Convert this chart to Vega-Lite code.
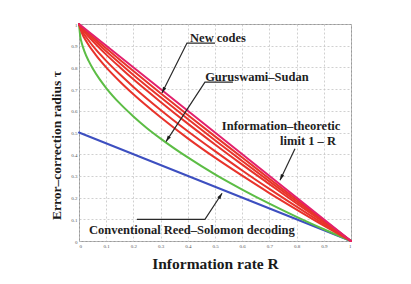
{
  "$schema": "https://vega.github.io/schema/vega-lite/v6.json",
  "autosize": {"type": "none"},
  "padding": {"left": 79, "top": 24, "right": 60, "bottom": 43},
  "width": 272,
  "height": 217,
  "background": "#ffffff",
  "config": {
    "view": {"stroke": "#9a9a9a", "strokeWidth": 1},
    "axis": {
      "grid": true,
      "gridColor": "#c4c4c4",
      "gridDash": [2, 2],
      "gridWidth": 0.8,
      "domain": false,
      "ticks": false,
      "labelFont": "Liberation Serif",
      "labelFontSize": 5,
      "labelColor": "#555555",
      "labelPadding": 2,
      "titleFont": "Liberation Serif",
      "titleFontWeight": "bold",
      "titleColor": "#1a1a1a"
    }
  },
  "datasets": {
    "curves": [
      {"s": "rs", "R": 0, "tau": 0.5}, {"s": "rs", "R": 1, "tau": 0},
      {"s": "gs", "R": 0, "tau": 1}, {"s": "gs", "R": 0.005, "tau": 0.94}, {"s": "gs", "R": 0.01, "tau": 0.913},
      {"s": "gs", "R": 0.02, "tau": 0.874}, {"s": "gs", "R": 0.035, "tau": 0.831}, {"s": "gs", "R": 0.05, "tau": 0.796},
      {"s": "gs", "R": 0.075, "tau": 0.747}, {"s": "gs", "R": 0.1, "tau": 0.705}, {"s": "gs", "R": 0.15, "tau": 0.634},
      {"s": "gs", "R": 0.2, "tau": 0.574}, {"s": "gs", "R": 0.25, "tau": 0.52}, {"s": "gs", "R": 0.3, "tau": 0.472},
      {"s": "gs", "R": 0.4, "tau": 0.385}, {"s": "gs", "R": 0.5, "tau": 0.307}, {"s": "gs", "R": 0.6, "tau": 0.237},
      {"s": "gs", "R": 0.7, "tau": 0.172}, {"s": "gs", "R": 0.8, "tau": 0.111}, {"s": "gs", "R": 0.9, "tau": 0.054},
      {"s": "gs", "R": 1, "tau": 0},
      {"s": "r1", "R": 0, "tau": 1}, {"s": "r1", "R": 0.01, "tau": 0.96}, {"s": "r1", "R": 0.03, "tau": 0.914},
      {"s": "r1", "R": 0.06, "tau": 0.86}, {"s": "r1", "R": 0.1, "tau": 0.8}, {"s": "r1", "R": 0.15, "tau": 0.735},
      {"s": "r1", "R": 0.2, "tau": 0.676}, {"s": "r1", "R": 0.3, "tau": 0.57}, {"s": "r1", "R": 0.4, "tau": 0.473},
      {"s": "r1", "R": 0.5, "tau": 0.384}, {"s": "r1", "R": 0.6, "tau": 0.301}, {"s": "r1", "R": 0.7, "tau": 0.221},
      {"s": "r1", "R": 0.8, "tau": 0.145}, {"s": "r1", "R": 0.9, "tau": 0.071}, {"s": "r1", "R": 1, "tau": 0},
      {"s": "r2", "R": 0, "tau": 1}, {"s": "r2", "R": 0.01, "tau": 0.971}, {"s": "r2", "R": 0.03, "tau": 0.933},
      {"s": "r2", "R": 0.06, "tau": 0.885}, {"s": "r2", "R": 0.1, "tau": 0.83}, {"s": "r2", "R": 0.15, "tau": 0.768},
      {"s": "r2", "R": 0.2, "tau": 0.71}, {"s": "r2", "R": 0.3, "tau": 0.604}, {"s": "r2", "R": 0.4, "tau": 0.506},
      {"s": "r2", "R": 0.5, "tau": 0.414}, {"s": "r2", "R": 0.6, "tau": 0.325}, {"s": "r2", "R": 0.7, "tau": 0.24},
      {"s": "r2", "R": 0.8, "tau": 0.158}, {"s": "r2", "R": 0.9, "tau": 0.078}, {"s": "r2", "R": 1, "tau": 0},
      {"s": "r3", "R": 0, "tau": 1}, {"s": "r3", "R": 0.01, "tau": 0.98}, {"s": "r3", "R": 0.03, "tau": 0.949},
      {"s": "r3", "R": 0.06, "tau": 0.909}, {"s": "r3", "R": 0.1, "tau": 0.859}, {"s": "r3", "R": 0.15, "tau": 0.801},
      {"s": "r3", "R": 0.2, "tau": 0.745}, {"s": "r3", "R": 0.3, "tau": 0.641}, {"s": "r3", "R": 0.4, "tau": 0.541},
      {"s": "r3", "R": 0.5, "tau": 0.445}, {"s": "r3", "R": 0.6, "tau": 0.352}, {"s": "r3", "R": 0.7, "tau": 0.262},
      {"s": "r3", "R": 0.8, "tau": 0.173}, {"s": "r3", "R": 0.9, "tau": 0.086}, {"s": "r3", "R": 1, "tau": 0},
      {"s": "r4", "R": 0, "tau": 1}, {"s": "r4", "R": 0.01, "tau": 0.984}, {"s": "r4", "R": 0.03, "tau": 0.957},
      {"s": "r4", "R": 0.06, "tau": 0.921}, {"s": "r4", "R": 0.1, "tau": 0.874}, {"s": "r4", "R": 0.15, "tau": 0.819},
      {"s": "r4", "R": 0.2, "tau": 0.765}, {"s": "r4", "R": 0.3, "tau": 0.662}, {"s": "r4", "R": 0.4, "tau": 0.562},
      {"s": "r4", "R": 0.5, "tau": 0.464}, {"s": "r4", "R": 0.6, "tau": 0.369}, {"s": "r4", "R": 0.7, "tau": 0.275},
      {"s": "r4", "R": 0.8, "tau": 0.182}, {"s": "r4", "R": 0.9, "tau": 0.091}, {"s": "r4", "R": 1, "tau": 0},
      {"s": "r5", "R": 0, "tau": 1}, {"s": "r5", "R": 0.01, "tau": 0.987}, {"s": "r5", "R": 0.03, "tau": 0.964},
      {"s": "r5", "R": 0.06, "tau": 0.931}, {"s": "r5", "R": 0.1, "tau": 0.888}, {"s": "r5", "R": 0.15, "tau": 0.835},
      {"s": "r5", "R": 0.2, "tau": 0.783}, {"s": "r5", "R": 0.3, "tau": 0.681}, {"s": "r5", "R": 0.4, "tau": 0.581},
      {"s": "r5", "R": 0.5, "tau": 0.482}, {"s": "r5", "R": 0.6, "tau": 0.385}, {"s": "r5", "R": 0.7, "tau": 0.287},
      {"s": "r5", "R": 0.8, "tau": 0.191}, {"s": "r5", "R": 0.9, "tau": 0.095}, {"s": "r5", "R": 1, "tau": 0},
      {"s": "lim", "R": 0, "tau": 1}, {"s": "lim", "R": 1, "tau": 0}
    ],
    "notes": [
      {"t": "New codes", "R": 0.511, "tau": 0.935},
      {"t": "Guruswami–Sudan", "R": 0.654, "tau": 0.755},
      {"t": "Information–theoretic", "R": 0.743, "tau": 0.532},
      {"t": "limit 1 – R", "R": 0.842, "tau": 0.46},
      {"t": "Conventional Reed–Solomon decoding", "R": 0.415, "tau": 0.049}
    ],
    "arrows": [
      {"a": 1, "o": 1, "R": 0.5, "tau": 0.912}, {"a": 1, "o": 2, "R": 0.397, "tau": 0.912}, {"a": 1, "o": 3, "R": 0.305, "tau": 0.682},
      {"a": 2, "o": 1, "R": 0.566, "tau": 0.732}, {"a": 2, "o": 2, "R": 0.463, "tau": 0.732}, {"a": 2, "o": 3, "R": 0.32, "tau": 0.458},
      {"a": 3, "o": 1, "R": 0.794, "tau": 0.425}, {"a": 3, "o": 2, "R": 0.739, "tau": 0.28},
      {"a": 4, "o": 1, "R": 0.213, "tau": 0.1}, {"a": 4, "o": 2, "R": 0.463, "tau": 0.1}, {"a": 4, "o": 3, "R": 0.526, "tau": 0.22}
    ],
    "heads": [
      {"a": 1, "R": 0.305, "tau": 0.682},
      {"a": 2, "R": 0.32, "tau": 0.458},
      {"a": 3, "R": 0.739, "tau": 0.28},
      {"a": 4, "R": 0.526, "tau": 0.22}
    ]
  },
  "encoding": {
    "x": {
      "field": "R", "type": "quantitative",
      "scale": {"domain": [0, 1], "nice": false},
      "axis": {"values": [0, 0.1, 0.2, 0.3, 0.4, 0.5, 0.6, 0.7, 0.8, 0.9, 1], "format": "~g", "title": "Information rate R", "titleFontSize": 15.5, "titleY": 15, "titleBaseline": "top"}
    },
    "y": {
      "field": "tau", "type": "quantitative",
      "scale": {"domain": [0, 1], "nice": false},
      "axis": {"values": [0, 0.1, 0.2, 0.3, 0.4, 0.5, 0.6, 0.7, 0.8, 0.9, 1], "format": "~g", "title": "Error–correction radius τ", "titleFontSize": 13.5, "titleX": -19, "titleY": 121, "titleBaseline": "alphabetic"}
    }
  },
  "layer": [
    {
      "data": {"name": "curves"},
      "mark": {"type": "line", "interpolate": "monotone", "strokeWidth": 2, "strokeCap": "round"},
      "encoding": {
        "color": {
          "field": "s", "type": "nominal", "legend": null,
          "scale": {
            "domain": ["rs", "gs", "r1", "r2", "r3", "r4", "r5", "lim"],
            "range": ["#3d4fc0", "#5cbd45", "#e8332b", "#e8332b", "#e8332b", "#e8332b", "#e8332b", "#e3206c"]
          }
        }
      }
    },
    {
      "data": {"name": "arrows"},
      "mark": {"type": "line", "color": "#2a2a2a", "strokeWidth": 1.2},
      "encoding": {"detail": {"field": "a"}, "order": {"field": "o", "type": "quantitative"}}
    },
    {
      "data": {"name": "heads"},
      "transform": [{"filter": "datum.a == 1"}],
      "mark": {"type": "point", "shape": "M0,0L-0.45,1.5L0.45,1.5Z", "filled": true, "color": "#1a1a1a", "opacity": 1, "size": 64, "angle": 206.6},
      "encoding": {}
    },
    {
      "data": {"name": "heads"},
      "transform": [{"filter": "datum.a == 2"}],
      "mark": {"type": "point", "shape": "M0,0L-0.45,1.5L0.45,1.5Z", "filled": true, "color": "#1a1a1a", "opacity": 1, "size": 64, "angle": 213},
      "encoding": {}
    },
    {
      "data": {"name": "heads"},
      "transform": [{"filter": "datum.a == 3"}],
      "mark": {"type": "point", "shape": "M0,0L-0.45,1.5L0.45,1.5Z", "filled": true, "color": "#1a1a1a", "opacity": 1, "size": 64, "angle": 205},
      "encoding": {}
    },
    {
      "data": {"name": "heads"},
      "transform": [{"filter": "datum.a == 4"}],
      "mark": {"type": "point", "shape": "M0,0L-0.45,1.5L0.45,1.5Z", "filled": true, "color": "#1a1a1a", "opacity": 1, "size": 64, "angle": 33},
      "encoding": {}
    },
    {
      "data": {"name": "notes"},
      "mark": {"type": "text", "font": "Liberation Serif", "fontWeight": "bold", "fontSize": 12.5, "color": "#1e1e1e", "baseline": "middle", "align": "center"},
      "encoding": {"text": {"field": "t"}}
    }
  ]
}
